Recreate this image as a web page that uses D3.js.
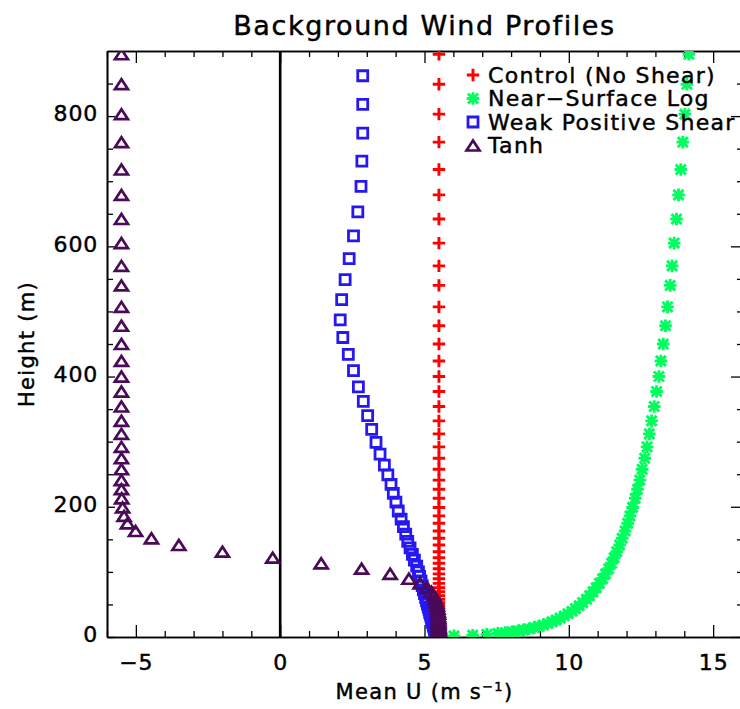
<!DOCTYPE html>
<html>
<head>
<meta charset="utf-8">
<script src="https://cdn.jsdelivr.net/npm/d3@7"></script>
<style>
  body { margin: 0; background: #fff; }
  text { font-family: "DejaVu Sans", sans-serif; fill: #000; stroke: #000; stroke-width: 0.45px; }
</style>
</head>
<body>
<svg id="chart" width="740" height="709"></svg>
<script>
// Model levels (m) shared by the control, log and tanh profiles
const heights = [1.7, 2.8, 4.1, 5.5, 6.7, 8.0, 9.4, 10.9, 12.6, 14.4, 16.4, 18.5, 20.8, 23.3, 26, 29,
  32.2, 35.7, 39.5, 43.6, 48, 52.8, 58, 63.5, 69.4, 75.7, 82.4, 89.5, 97, 104.9, 113.2, 121.8,
  131, 141.3, 151.6, 162.8, 174.6, 186, 199, 213, 227, 241, 257.6, 274.5, 292, 312,
  332, 354, 377, 400, 424, 450, 478, 507, 540, 570, 605, 642, 679, 718, 760, 803, 849, 895];

// Control (No Shear), m/s
const controlU = [5.5, 5.5, 5.5, 5.5, 5.5, 5.5, 5.5, 5.5, 5.5, 5.5, 5.5, 5.5, 5.5, 5.5, 5.5, 5.5,
  5.5, 5.5, 5.5, 5.5, 5.5, 5.5, 5.5, 5.5, 5.5, 5.5, 5.5, 5.5, 5.5, 5.5, 5.5, 5.5,
  5.5, 5.5, 5.5, 5.5, 5.5, 5.5, 5.5, 5.5, 5.5, 5.5, 5.5, 5.5, 5.5, 5.5,
  5.5, 5.5, 5.5, 5.5, 5.5, 5.5, 5.5, 5.5, 5.5, 5.5, 5.5, 5.5, 5.5, 5.5, 5.5, 5.5, 5.5, 5.5];

// Near-Surface Log, m/s
const logU = [6.02, 6.67, 7.16, 7.54, 7.80, 8.03, 8.24, 8.43, 8.62, 8.80, 8.96, 9.12, 9.27, 9.42, 9.56, 9.70,
  9.84, 9.97, 10.11, 10.23, 10.36, 10.48, 10.61, 10.72, 10.84, 10.95, 11.06, 11.17, 11.27, 11.38, 11.48, 11.57,
  11.66, 11.76, 11.85, 11.95, 12.04, 12.12, 12.21, 12.30, 12.38, 12.46, 12.54, 12.63, 12.71, 12.79,
  12.87, 12.96, 13.04, 13.12, 13.19, 13.27, 13.35, 13.42, 13.51, 13.58, 13.65, 13.73, 13.80, 13.88, 13.95, 14.02, 14.09, 14.16];

// Tanh, m/s
const tanhU = [5.50, 5.50, 5.50, 5.50, 5.50, 5.50, 5.50, 5.50, 5.50, 5.50, 5.49, 5.49, 5.49, 5.49, 5.49, 5.49,
  5.48, 5.48, 5.47, 5.46, 5.44, 5.42, 5.38, 5.33, 5.24, 5.09, 4.85, 4.46, 3.81, 2.82, 1.42, -0.26,
  -2.00, -3.51, -4.46, -5.01, -5.29, -5.41, -5.46, -5.49, -5.50, -5.50, -5.50, -5.50, -5.50, -5.50,
  -5.50, -5.50, -5.50, -5.50, -5.50, -5.50, -5.50, -5.50, -5.50, -5.50, -5.50, -5.50, -5.50, -5.50, -5.50, -5.50, -5.50, -5.50];

// Weak Positive Shear is stored on its own (staggered) levels
const shearHeights = [1.1, 2.3, 3.5, 4.8, 6.1, 7.3, 8.7, 10.2, 11.8, 13.5, 15.4, 17.5, 19.7, 22, 24.7, 27.5,
  30.6, 34, 37.6, 41.6, 45.8, 50.4, 55.4, 60.7, 66.5, 72.5, 79, 86, 93, 100, 109, 118,
  127, 137, 147, 158, 169.4, 181, 193.5, 207, 220.7, 234.5, 249, 264, 281, 299,
  319, 340, 362, 384, 409, 434, 460, 487, 518, 549, 581, 616, 653, 692, 731, 774, 818, 862];
const shearU = [5.41, 5.41, 5.40, 5.39, 5.38, 5.37, 5.37, 5.36, 5.35, 5.34, 5.32, 5.31, 5.30, 5.28, 5.26, 5.25,
  5.23, 5.21, 5.18, 5.16, 5.13, 5.10, 5.07, 5.04, 5.00, 4.96, 4.92, 4.88, 4.83, 4.79, 4.73, 4.65,
  4.58, 4.50, 4.42, 4.35, 4.27, 4.19, 4.09, 4.01, 3.92, 3.84, 3.73, 3.61, 3.46, 3.32,
  3.17, 3.03, 2.88, 2.71, 2.54, 2.36, 2.17, 2.08, 2.13, 2.25, 2.39, 2.54, 2.69, 2.80, 2.83, 2.86, 2.86, 2.86];

const xMajor = [-5, 0, 5, 10, 15];
const xMinor = [-6, -4, -3, -2, -1, 1, 2, 3, 4, 6, 7, 8, 9, 11, 12, 13, 14, 16];
const yMajor = [0, 200, 400, 600, 800];
const yMinor = [50, 100, 150, 250, 300, 350, 450, 500, 550, 650, 700, 750, 850];

const seriesNames = ["Control (No Shear)", "Near\u2212Surface Log", "Weak Positive Shear", "Tanh"];
const seriesColors = ["#ff0000", "#00ff5e", "#2618f0", "#4a0a58"];

// ---- layout ----
const L = 107, R = 742, T = 51, B = 637;
const svg = d3.select("#chart");
const x = d3.scaleLinear().domain([-6, 16]).range([L, R]);
const y = d3.scaleLinear().domain([0, 900]).range([B, T]);

// marker shapes drawn as open strokes
const shapes = {
  plus: s => `M${-s},0H${s}M0,${-s}V${s}`,
  star: s => { const d = s * 0.8; return `M${-s},0H${s}M0,${-s}V${s}M${-d},${-d}L${d},${d}M${-d},${d}L${d},${-d}`; },
  square: s => `M${-s},${-s}H${s}V${s}H${-s}Z`,
  triangle: s => `M${-s * 1.3},${s}L0,${-s}L${s * 1.3},${s}Z`
};
const markerStyle = [
  { shape: "plus", size: 6.2, width: 2.9 },
  { shape: "star", size: 6.3, width: 2.9 },
  { shape: "square", size: 5.0, width: 2.8 },
  { shape: "triangle", size: 5.0, width: 2.7 }
];

// ---- axes (ticks point inward on all four sides) ----
function axisGroup(gen, tx, ty) {
  const g = svg.append("g").attr("transform", `translate(${tx},${ty})`).call(gen);
  g.selectAll(".domain").attr("stroke", "#000").attr("stroke-width", 1.6);
  g.selectAll(".tick line").attr("stroke", "#000").attr("stroke-width", 1.3);
  g.selectAll("text").attr("font-size", 22).attr("letter-spacing", 0.8)
    .attr("font-family", '"DejaVu Sans", sans-serif');
  return g;
}
const fmt = d => d < 0 ? "\u2212" + Math.abs(d) : String(d);

axisGroup(d3.axisBottom(x).tickValues(xMinor).tickSize(-6).tickSizeOuter(0).tickFormat(""), 0, B);
axisGroup(d3.axisBottom(x).tickValues(xMajor).tickSize(-12).tickSizeOuter(0).tickPadding(17).tickFormat(fmt), 0, B);
axisGroup(d3.axisTop(x).tickValues(xMinor).tickSize(-6).tickSizeOuter(0).tickFormat(""), 0, T);
axisGroup(d3.axisTop(x).tickValues(xMajor).tickSize(-12).tickSizeOuter(0).tickFormat(""), 0, T);
axisGroup(d3.axisLeft(y).tickValues(yMinor).tickSize(-6).tickSizeOuter(0).tickFormat(""), L, 0);
axisGroup(d3.axisLeft(y).tickValues(yMajor).tickSize(-8).tickSizeOuter(0).tickPadding(9).tickFormat(fmt), L, 0)
  .selectAll("text").attr("dy", "0.22em");
axisGroup(d3.axisRight(y).tickValues(yMinor).tickSize(-5).tickSizeOuter(0).tickFormat(""), R, 0);
axisGroup(d3.axisRight(y).tickValues(yMajor).tickSize(-11).tickSizeOuter(0).tickFormat(""), R, 0);

// zero reference line
svg.append("line")
  .attr("x1", x(0)).attr("x2", x(0)).attr("y1", y(0)).attr("y2", y(900))
  .attr("stroke", "#000").attr("stroke-width", 2.6);

// ---- profiles ----
svg.append("clipPath").attr("id", "plotArea")
  .append("rect").attr("x", L).attr("y", T).attr("width", R - L).attr("height", B - T);
const plot = svg.append("g").attr("clip-path", "url(#plotArea)");

const series = [
  { z: heights, u: controlU },
  { z: heights, u: logU },
  { z: shearHeights, u: shearU },
  { z: heights, u: tanhU }
];
series.forEach((s, i) => {
  const st = markerStyle[i];
  plot.append("g").selectAll("path")
    .data(s.u.map((u, k) => ({ u, z: s.z[k] })))
    .join("path")
    .attr("transform", d => `translate(${x(d.u)},${y(d.z)})`)
    .attr("d", shapes[st.shape](st.size))
    .attr("fill", "none")
    .attr("stroke", seriesColors[i])
    .attr("stroke-width", st.width);
});

// ---- legend ----
const legend = svg.append("g");
seriesNames.forEach((name, i) => {
  const st = markerStyle[i];
  const yy = 75 + i * 23.5;
  legend.append("path")
    .attr("transform", `translate(473,${yy})`)
    .attr("d", shapes[st.shape](st.size))
    .attr("fill", "none").attr("stroke", seriesColors[i]).attr("stroke-width", st.width);
  legend.append("text").attr("x", 488).attr("y", yy).attr("dy", "0.36em")
    .attr("font-size", 22).attr("letter-spacing", 1.3).text(name);
});

// ---- titles ----
svg.append("text").attr("x", (L + R) / 2).attr("y", 35).attr("text-anchor", "middle")
  .attr("font-size", 27).attr("letter-spacing", 1.6).text("Background Wind Profiles");

const xl = svg.append("text").attr("x", (L + R) / 2).attr("y", 699).attr("text-anchor", "middle")
  .attr("font-size", 21).attr("letter-spacing", 1.3);
xl.append("tspan").text("Mean U (m s");
xl.append("tspan").attr("font-size", 13).attr("dy", -8).text("\u22121");
xl.append("tspan").attr("dy", 8).text(")");

svg.append("text").attr("transform", `translate(34,${(T + B) / 2}) rotate(-90)`)
  .attr("text-anchor", "middle").attr("font-size", 21).attr("letter-spacing", 1.3).text("Height (m)");
</script>
</body>
</html>
